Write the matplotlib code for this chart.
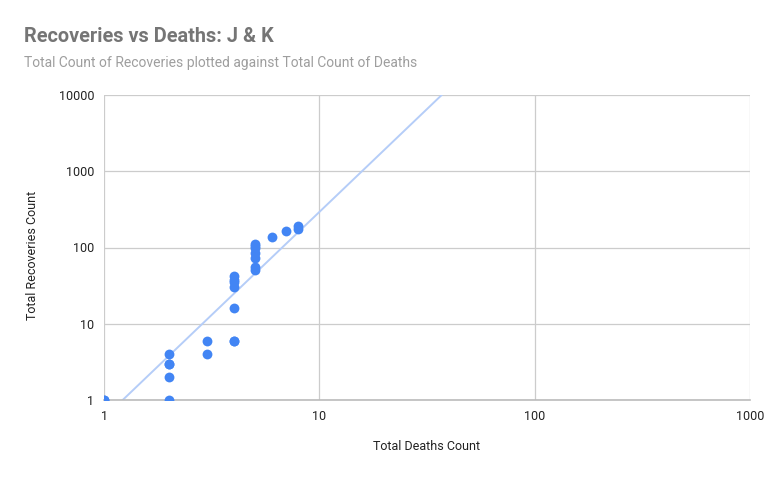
import numpy as np
import matplotlib.pyplot as plt

plt.rcParams['font.family'] = ['Roboto', 'DejaVu Sans']

# deaths vs recoveries
deaths = [1, 1, 2, 2, 2, 2, 2, 3, 3, 4, 4, 4, 4, 4, 4, 4,
          5, 5, 5, 5, 5, 5, 5, 6, 7, 8, 8]
recoveries = [1, 1, 1, 2, 3, 3, 4, 4, 6, 6, 16, 30, 35, 38, 42, 6,
              51, 56, 72, 84, 98, 111, 105, 136, 163, 173, 191]

x_ticks = [1, 10, 100, 1000]
y_ticks = [1, 10, 100, 1000, 10000]

# power trendline y = a * x^b, as drawn on the chart
trend_a = 0.583
trend_b = 2.70
xt = np.logspace(0, 3, 200)
yt = trend_a * xt ** trend_b

fig = plt.figure(figsize=(7.74, 4.78), dpi=100)
ax = fig.add_axes([104 / 774, 1 - 400 / 478, 646 / 774, 305 / 478])

ax.plot(xt, yt, color='#b5cdf8', linewidth=1.4, zorder=2)
ax.scatter(deaths, recoveries, s=50, color='#4285f4', zorder=3, linewidths=0)

ax.set_xscale('log')
ax.set_yscale('log')
ax.set_xlim(1, 1000)
ax.set_ylim(1, 10000)
ax.set_xticks(x_ticks)
ax.set_xticklabels([str(v) for v in x_ticks])
ax.set_yticks(y_ticks)
ax.set_yticklabels([str(v) for v in y_ticks])
ax.minorticks_off()
ax.tick_params(length=0, labelsize=9, colors='#222222', pad=7)

ax.grid(True, color='#cccccc', linewidth=0.9)
ax.set_axisbelow(True)
for s in ['top', 'right', 'left']:
    ax.spines[s].set_visible(False)
ax.spines['bottom'].set_color('#bbbbbb')
ax.spines['bottom'].set_linewidth(1.2)

ax.set_xlabel('Total Deaths Count', fontsize=9, color='#222222')
ax.xaxis.set_label_coords(0.5, (400 - 446) / 305, transform=ax.transAxes)
ax.set_ylabel('Total Recoveries Count', fontsize=9, color='#222222')
ax.yaxis.set_label_coords((33 - 104) / 646, (400 - 255) / 305, transform=ax.transAxes)
ax.xaxis.label.set_va('center')
ax.yaxis.label.set_va('center')

fig.text(24 / 774, 1 - 37 / 478, 'Recoveries vs Deaths: J & K', fontsize=14.3,
         fontweight='bold', color='#757575', va='center')
fig.text(24 / 774, 1 - 63 / 478,
         'Total Count of Recoveries plotted against Total Count of Deaths',
         fontsize=10, color='#9e9e9e', va='center')

fig.savefig('out.png', dpi=100)
